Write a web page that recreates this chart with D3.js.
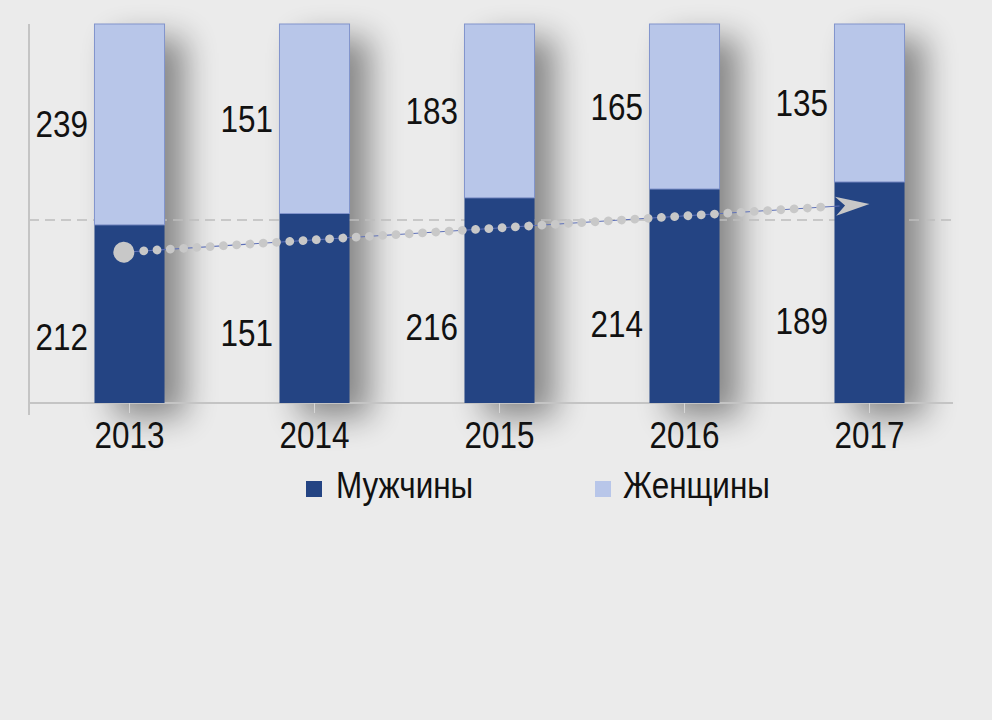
<!DOCTYPE html>
<html lang="ru">
<head>
    <meta charset="UTF-8">
    <title>Мужчины и женщины</title>
    <script src="https://d3js.org/d3.v7.min.js"></script>
    <style>
        html, body {
            margin: 0;
            padding: 0;
            background: #ebebeb;
        }
        svg {
            display: block;
            font-family: "Liberation Sans", Arial, sans-serif;
        }
        .label {
            font-size: 37px;
            fill: #111;
        }
    </style>
</head>
<body>
    <svg id="chart" width="992" height="720"></svg>

    <script>
        // data
        var years = ["2013", "2014", "2015", "2016", "2017"];
        var men   = [212, 151, 216, 214, 189];
        var women = [239, 151, 183, 165, 135];
        var seriesNames = ["Мужчины", "Женщины"];

        // reference level (share) of the dashed line, and the trend arrow (share at first / last year)
        var refShare = 0.483;
        var trendFrom = 0.398;
        var trendTo = 0.525;

        var colors = { men: "#244483", women: "#b8c6e9" };

        var narrow = 0.85; // condensed look: Liberation Sans squeezed horizontally
        var plot = { left: 29, right: 953, top: 24, bottom: 403 };

        var svg = d3.select("#chart");

        var rows = years.map(function(y, i) {
            return { year: y, men: men[i], women: women[i] };
        });

        var stack = d3.stack().keys(["men", "women"]).offset(d3.stackOffsetExpand);
        var series = stack(rows);

        var x = d3.scaleBand()
            .domain(years)
            .range([37, 962])
            .paddingInner(0.616)
            .paddingOuter(0.308);

        var y = d3.scaleLinear()
            .domain([0, 1])
            .range([plot.bottom, plot.top]);

        function place(tx, ty) {
            return "translate(" + tx + "," + ty + ") scale(" + narrow + ",1)";
        }

        // shadow filter for the "folded" look behind each bar
        var defs = svg.append("defs");
        var f = defs.append("filter")
            .attr("id", "shadow")
            .attr("x", "-100%").attr("y", "-30%")
            .attr("width", "300%").attr("height", "160%");
        f.append("feGaussianBlur").attr("stdDeviation", 16);

        svg.append("g")
            .selectAll("rect")
            .data(years)
            .enter().append("rect")
            .attr("x", function(d) { return x(d) + 20; })
            .attr("y", y(1) + 14)
            .attr("width", x.bandwidth())
            .attr("height", y(0) - y(1))
            .attr("fill", "#000")
            .attr("opacity", 0.42)
            .attr("filter", "url(#shadow)");

        // dashed reference line (behind bars)
        svg.append("line")
            .attr("x1", plot.left).attr("x2", plot.right)
            .attr("y1", y(refShare)).attr("y2", y(refShare))
            .attr("stroke", "#bdbdbd")
            .attr("stroke-width", 1.5)
            .attr("stroke-dasharray", "10 6");

        // axes lines
        svg.append("line")
            .attr("x1", plot.left).attr("x2", plot.left)
            .attr("y1", plot.top).attr("y2", plot.bottom + 12)
            .attr("stroke", "#c4c4c4")
            .attr("stroke-width", 2);

        svg.append("line")
            .attr("x1", plot.left).attr("x2", plot.right)
            .attr("y1", plot.bottom).attr("y2", plot.bottom)
            .attr("stroke", "#c4c4c4")
            .attr("stroke-width", 2);

        var xAxis = svg.append("g")
            .attr("transform", "translate(0," + plot.bottom + ")")
            .call(d3.axisBottom(x).tickSizeInner(10).tickSizeOuter(0));
        xAxis.select(".domain").remove();
        xAxis.selectAll(".tick line").attr("stroke", "#d6d6d6");
        xAxis.selectAll(".tick text")
            .attr("class", "label")
            .attr("dy", null)
            .attr("y", 0)
            .attr("transform", place(0, 45))
            .attr("fill", "#111");
        xAxis.attr("font-family", null).attr("font-size", null);

        // stacked bars
        var layer = svg.append("g")
            .selectAll("g")
            .data(series)
            .enter().append("g")
            .attr("fill", function(d) { return colors[d.key]; });

        layer.selectAll("rect")
            .data(function(d) { return d.map(function(v) { v.key = d.key; return v; }); })
            .enter().append("rect")
            .attr("x", function(d) { return x(d.data.year) + 0.5; })
            .attr("y", function(d) { return y(d[1]); })
            .attr("width", x.bandwidth() - 1)
            .attr("height", function(d) { return y(d[0]) - y(d[1]); })
            .attr("stroke", function(d) { return d.key === "women" ? "#8294cc" : "none"; })
            .attr("stroke-width", 1);

        // value labels left of the bars
        svg.append("g")
            .selectAll("text")
            .data(series[1])
            .enter().append("text")
            .attr("class", "label")
            .attr("text-anchor", "end")
            .attr("transform", function(d) {
                return place(x(d.data.year) - 6, (y(d[0]) + y(d[1])) / 2 + 13);
            })
            .text(function(d) { return d.data.women; });

        svg.append("g")
            .selectAll("text")
            .data(series[0])
            .enter().append("text")
            .attr("class", "label")
            .attr("text-anchor", "end")
            .attr("transform", function(d) {
                return place(x(d.data.year) - 6, y(d[1] * 0.37) + 13);
            })
            .text(function(d) { return d.data.men; });

        // dotted trend arrow
        var x0 = x(years[0]) + x.bandwidth() * 0.42,
            y0 = y(trendFrom),
            x1 = x(years[years.length - 1]) + x.bandwidth() / 2,
            y1 = y(trendTo);
        var ang = Math.atan2(y1 - y0, x1 - x0) * 180 / Math.PI;
        var len = Math.hypot(x1 - x0, y1 - y0);

        var trend = svg.append("g")
            .attr("transform", "translate(" + x0 + "," + y0 + ") rotate(" + ang + ")");

        trend.append("line")
            .attr("x1", 0).attr("x2", len - 30)
            .attr("y1", 0).attr("y2", 0)
            .attr("stroke", "#5e70b8")
            .attr("stroke-width", 1);

        trend.append("line")
            .attr("x1", 20).attr("x2", len - 36)
            .attr("y1", 0).attr("y2", 0)
            .attr("stroke", "#c8c8c8")
            .attr("stroke-width", 8.8)
            .attr("stroke-linecap", "round")
            .attr("stroke-dasharray", "0 13.3");

        trend.append("circle")
            .attr("r", 10.5)
            .attr("fill", "#c8c8c8");

        trend.append("path")
            .attr("d", "M" + len + ",0 L" + (len - 34) + ",-9.5 L" + (len - 24.5) + ",0 L" + (len - 34) + ",9.5 Z")
            .attr("fill", "#c8c8c8");

        // legend
        var legendX = [306, 595];
        var legend = svg.append("g")
            .selectAll("g")
            .data(seriesNames)
            .enter().append("g")
            .attr("transform", function(d, i) { return "translate(" + legendX[i] + ",498)"; });

        legend.append("rect")
            .attr("x", 0).attr("y", -17)
            .attr("width", 16).attr("height", 16)
            .attr("fill", function(d, i) { return i === 0 ? colors.men : colors.women; });

        legend.append("text")
            .attr("class", "label")
            .attr("transform", function(d, i) { return place(i === 0 ? 30 : 28, 0); })
            .text(function(d) { return d; });
    </script>
</body>
</html>
